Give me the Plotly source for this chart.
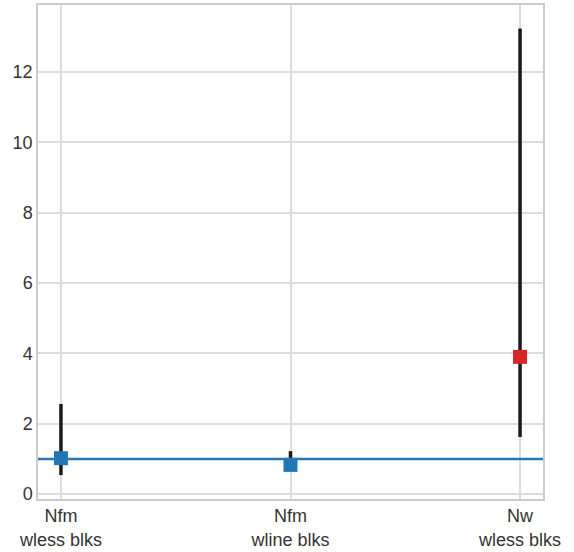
import plotly.graph_objects as go

categories = ["Nfm<br>wless blks", "Nfm<br>wline blks", "Nw<br>wless blks"]
values = [1.02, 0.83, 3.9]
err_low = [0.54, 0.70, 1.62]
err_high = [2.56, 1.22, 13.23]
colors = ["#1f77b4", "#1f77b4", "#d62728"]
ref_value = 1.0
yticks = [0, 2, 4, 6, 8, 10, 12]

xs = list(range(len(categories)))
fig = go.Figure()

# error bars as vertical lines
for x, lo, hi in zip(xs, err_low, err_high):
    fig.add_trace(go.Scatter(x=[x, x], y=[lo, hi], mode="lines",
                             line=dict(color="#1a1a1a", width=3.5),
                             showlegend=False, hoverinfo="skip"))

fig.add_hline(y=ref_value, line=dict(color="#2878b8", width=2.5), layer="above")

fig.add_trace(go.Scatter(x=xs, y=values, mode="markers",
                         marker=dict(symbol="square", size=14, color=colors, line=dict(width=0)),
                         showlegend=False))

fig.update_layout(
    width=574, height=552,
    margin=dict(l=38, r=31, t=5, b=53),
    paper_bgcolor="white", plot_bgcolor="white",
    font=dict(family="Liberation Sans, Arial, sans-serif", size=18, color="#333333"),
)
fig.update_xaxes(range=[-0.1, 2.1], tickvals=xs, ticktext=categories,
                 showgrid=True, gridcolor="#dcdcdc", gridwidth=1.5,
                 showline=True, linecolor="#cccccc", linewidth=1.5, mirror=True,
                 zeroline=False, ticks="", tickfont=dict(size=18), automargin=False)
fig.update_yaxes(range=[-0.14, 13.9], tickvals=yticks,
                 showgrid=True, gridcolor="#dcdcdc", gridwidth=1.5,
                 showline=True, linecolor="#cccccc", linewidth=1.5, mirror=True,
                 zeroline=False, ticks="", tickfont=dict(size=18), automargin=False)

fig.write_html("out.html")
